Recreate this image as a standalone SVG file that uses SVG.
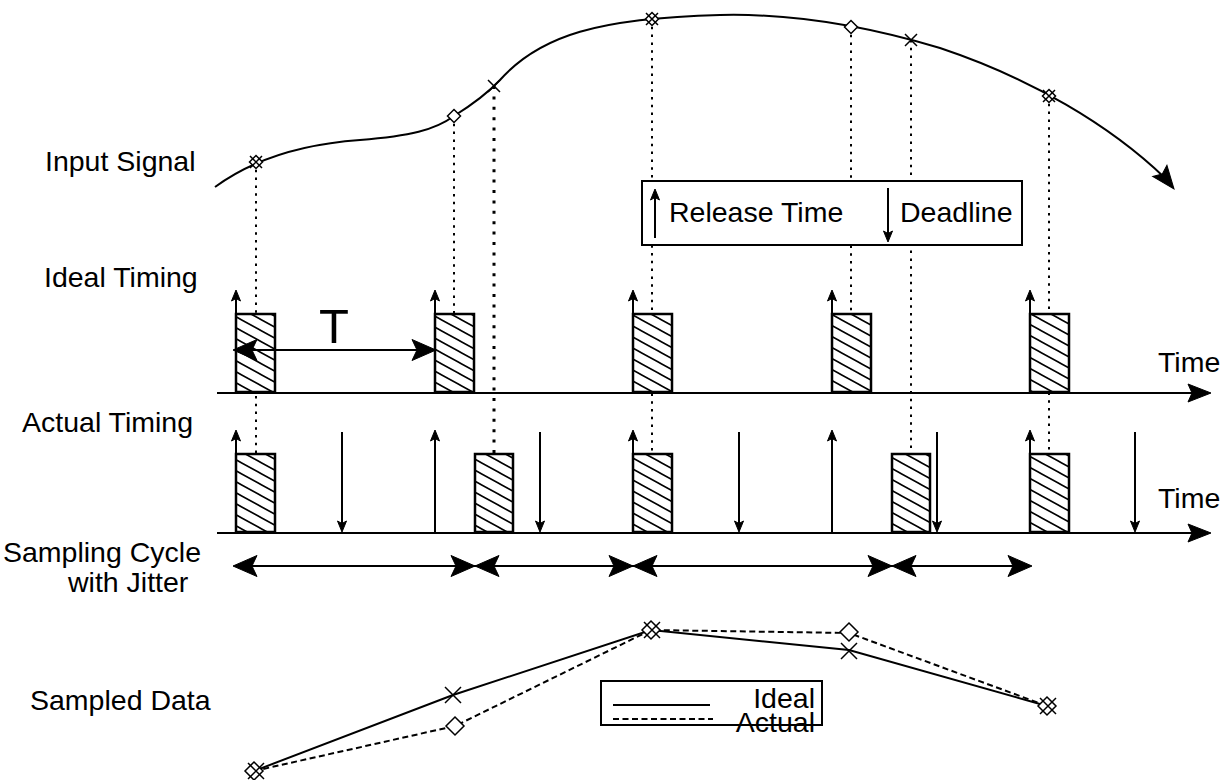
<svg xmlns="http://www.w3.org/2000/svg" width="1224" height="780" viewBox="0 0 1224 780">
<style>
text{font-family:"Liberation Sans",Arial,sans-serif;font-size:28.5px;fill:#000}
.ln{stroke:#000;stroke-width:2;fill:none}
.ax{stroke:#000;stroke-width:2.2;fill:none}
.dot{stroke:#000;stroke-width:2;stroke-dasharray:2.5 5.3;fill:none}
.dotb{stroke:#000;stroke-width:3;stroke-dasharray:3 7.4;fill:none}
.box{fill:url(#hatch);stroke:#000;stroke-width:2.5}
.mk{stroke:#000;stroke-width:1.5;fill:#fff}
.dash{stroke:#000;stroke-width:2;stroke-dasharray:6 3.5;fill:none}
.hd{fill:#000;stroke:#000;stroke-width:1;stroke-linejoin:miter}
</style>
<defs>
<pattern id="hatch" patternUnits="userSpaceOnUse" width="20" height="11">
<rect width="20" height="11" fill="#fff"/>
<path d="M-2,-1.1 L22,12.1 M-22,-1.1 L2,12.1 M18,-1.1 L42,12.1" stroke="#000" stroke-width="1.6"/>
</pattern>
<path id="ahb" class="hd" d="M0,0 L-24,-10.5 L-19,0 L-24,10.5 Z"/>
<path id="ahx" class="hd" d="M0,0 L-23,-9 L-19,0 L-23,9 Z"/>
<path id="ahs" class="hd" d="M0,0 L-11,-4.5 L-8.5,0 L-11,4.5 Z"/>
<g id="mx"><path d="M-6,-6 L6,6 M-6,6 L6,-6" stroke="#000" stroke-width="1.5"/></g>
<g id="md"><path d="M0,-6.5 L6.5,0 L0,6.5 L-6.5,0 Z" class="mk"/></g>
<g id="mc"><use href="#md"/><use href="#mx"/></g>
<g id="bx"><path d="M-8,-8 L8,8 M-8,8 L8,-8" stroke="#000" stroke-width="1.5"/></g>
<g id="bd"><path d="M0,-9 L9,0 L0,9 L-9,0 Z" class="mk"/></g>
</defs>

<g id="labels">
<text x="45" y="171">Input Signal</text>
<text x="44" y="287">Ideal Timing</text>
<text x="22" y="432">Actual Timing</text>
<text x="3" y="562">Sampling Cycle</text>
<text x="68" y="592">with Jitter</text>
<text x="30" y="710">Sampled Data</text>
<text x="1158" y="372">Time</text>
<text x="1158" y="508">Time</text>
</g>

<g id="connectors">
<line class="dot" x1="256" y1="162" x2="256" y2="454"/>
<line class="dot" x1="454" y1="116" x2="454" y2="314"/>
<line class="dotb" x1="494" y1="86" x2="494" y2="454"/>
<line class="dot" x1="652" y1="19" x2="652" y2="454"/>
<line class="dot" x1="851" y1="27" x2="851" y2="314"/>
<line class="dot" x1="911" y1="40" x2="911" y2="454"/>
<line class="dot" x1="1049" y1="96" x2="1049" y2="454"/>
<line class="ax" x1="217" y1="393" x2="1200" y2="393"/>
<use href="#ahx" transform="translate(1211,393)"/>
<line class="ax" x1="217" y1="533" x2="1200" y2="533"/>
<use href="#ahx" transform="translate(1211,533)"/>
<line class="ax" x1="240" y1="566" x2="1025" y2="566"/>
<use href="#ahb" transform="translate(233,566) rotate(180)"/>
<use href="#ahb" transform="translate(475,566)"/>
<use href="#ahb" transform="translate(475,566) rotate(180)"/>
<use href="#ahb" transform="translate(633,566)"/>
<use href="#ahb" transform="translate(633,566) rotate(180)"/>
<use href="#ahb" transform="translate(892,566)"/>
<use href="#ahb" transform="translate(892,566) rotate(180)"/>
<use href="#ahb" transform="translate(1032,566)"/>
</g>

<g id="input-signal">
<path class="ln" d="M215,187 C245,165 290,145 360,140 C410,136 435,130 454,116 C470,106 485,96 500,80 C540,35 600,18 720,15 C800,13 880,30 940,48 C1030,78 1110,125 1165,178"/>
<use href="#ahx" transform="translate(1174,189) rotate(52)"/>
<use href="#mc" x="256" y="162"/>
<use href="#md" x="454" y="116"/>
<use href="#mx" x="494" y="86"/>
<use href="#mc" x="652" y="19"/>
<use href="#md" x="851" y="27"/>
<use href="#mx" x="911" y="40"/>
<use href="#mc" x="1049" y="96"/>
</g>

<g id="legend-timing">
<rect x="642" y="181" width="380" height="64" fill="#fff" stroke="#000" stroke-width="2"/>
<line class="ln" x1="655" y1="238" x2="655" y2="194"/>
<use href="#ahs" transform="translate(655,189) rotate(-90)"/>
<text x="669" y="222">Release Time</text>
<line class="ln" x1="888" y1="188" x2="888" y2="236"/>
<use href="#ahs" transform="translate(888,242) rotate(90)"/>
<text x="900" y="222">Deadline</text>
</g>

<g id="ideal-timing">
<rect class="box" x="236" y="314" width="39" height="78"/>
<rect class="box" x="435" y="314" width="39" height="78"/>
<rect class="box" x="633" y="314" width="39" height="78"/>
<rect class="box" x="832" y="314" width="39" height="78"/>
<rect class="box" x="1030" y="314" width="39" height="78"/>
<path class="ln" d="M236,314 V295 M435,314 V295 M633,314 V295 M832,314 V295 M1030,314 V295"/>
<use href="#ahs" transform="translate(236,290) rotate(-90)"/>
<use href="#ahs" transform="translate(435,290) rotate(-90)"/>
<use href="#ahs" transform="translate(633,290) rotate(-90)"/>
<use href="#ahs" transform="translate(832,290) rotate(-90)"/>
<use href="#ahs" transform="translate(1030,290) rotate(-90)"/>
<line class="ax" x1="240" y1="350" x2="430" y2="350"/>
<use href="#ahb" transform="translate(233,350) rotate(180)"/>
<use href="#ahb" transform="translate(436,350)"/>
<text x="334" y="343" text-anchor="middle" style="font-size:49px">T</text>
</g>

<g id="actual-timing">
<rect class="box" x="236" y="454" width="39" height="78"/>
<rect class="box" x="475" y="454" width="38" height="78"/>
<rect class="box" x="633" y="454" width="39" height="78"/>
<rect class="box" x="892" y="454" width="38" height="78"/>
<rect class="box" x="1030" y="454" width="39" height="78"/>
<path class="ln" d="M236,454 V435 M435,532 V435 M633,454 V435 M832,532 V435 M1030,454 V435"/>
<use href="#ahs" transform="translate(236,430) rotate(-90)"/>
<use href="#ahs" transform="translate(435,430) rotate(-90)"/>
<use href="#ahs" transform="translate(633,430) rotate(-90)"/>
<use href="#ahs" transform="translate(832,430) rotate(-90)"/>
<use href="#ahs" transform="translate(1030,430) rotate(-90)"/>
<path class="ln" d="M342,432 V526 M540,432 V526 M739,432 V526 M937,432 V526 M1135,432 V526"/>
<use href="#ahs" transform="translate(342,532) rotate(90)"/>
<use href="#ahs" transform="translate(540,532) rotate(90)"/>
<use href="#ahs" transform="translate(739,532) rotate(90)"/>
<use href="#ahs" transform="translate(937,532) rotate(90)"/>
<use href="#ahs" transform="translate(1135,532) rotate(90)"/>
</g>

<g id="sampled-data">
<polyline class="ln" points="254,771 453,695 651,630 849,650 1047,706"/>
<polyline class="dash" points="254,771 455,726 651,630 849,633 1047,706"/>
<use href="#bd" x="254" y="771"/><use href="#bx" x="256" y="771"/>
<use href="#bx" x="453" y="695"/>
<use href="#bd" x="455" y="726"/>
<use href="#bd" x="651" y="630"/><use href="#bx" x="652" y="630"/>
<use href="#bd" x="849" y="632"/>
<use href="#bx" x="849" y="651"/>
<use href="#bd" x="1047" y="706"/><use href="#bx" x="1048" y="706"/>
</g>

<g id="legend-data">
<rect x="601" y="681" width="221" height="44" fill="#fff" stroke="#000" stroke-width="2"/>
<line class="ln" x1="613" y1="705" x2="710" y2="705"/>
<text x="815" y="708" text-anchor="end">Ideal</text>
<line class="dash" x1="613" y1="719" x2="713" y2="719"/>
<text x="815" y="732" text-anchor="end">Actual</text>
</g>
</svg>
